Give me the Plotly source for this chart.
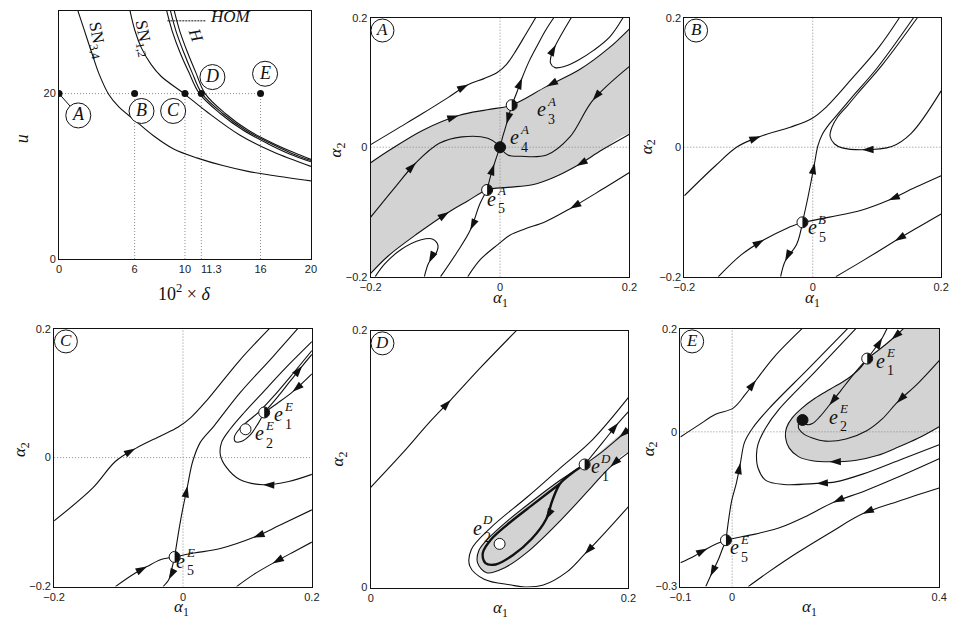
import math
import plotly.graph_objects as go

W, H = 955, 623
INK = "#111111"
GREY = "#d3d3d3"
DOT = "#8a8a8a"
SERIF = "Liberation Serif, DejaVu Serif, serif"
SANS = "Liberation Sans, Arial, sans-serif"

# ---------------- bifurcation diagram: (10^2 x delta, u) ----------------
SN34_D = [1.5, 2.0, 2.65, 3.2, 3.95, 4.75, 6.0, 7.5, 9.1, 11.0, 13.0, 15.0, 17.0, 20.0]
SN34_U = [30.0, 27.7, 24.7, 22.3, 19.9, 18.4, 16.8, 14.9, 13.3, 12.2, 11.3, 10.6, 10.1, 9.45]
SN12_D = [5.64, 6.03, 6.55, 7.32, 8.1, 9.92, 11.74, 14.34, 16.94, 20.0]
SN12_U = [30.0, 27.6, 25.5, 23.5, 22.1, 20.0, 17.8, 15.0, 13.0, 11.2]
H1_D = [8.55, 9.0, 9.6, 10.3, 11.15, 12.8, 14.6, 16.5, 18.3, 20.0]
H1_U = [30.0, 27.5, 25.0, 22.6, 20.0, 17.6, 15.6, 14.0, 12.7, 11.75]
H2_D = [8.85, 9.3, 9.9, 10.55, 11.35, 13.0, 14.8, 16.7, 18.45, 20.0]
H2_U = [30.0, 27.5, 25.0, 22.6, 20.0, 17.6, 15.6, 14.05, 12.8, 11.9]
H3_D = [9.15, 9.6, 10.2, 10.85, 11.6, 13.2, 15.0, 16.85, 18.6, 20.0]
H3_U = [30.0, 27.5, 25.0, 22.6, 20.0, 17.6, 15.6, 14.1, 12.9, 12.05]

CASE_NAMES = ["A", "B", "C", "D", "E"]
CASE_D = [0.0, 6.0, 10.0, 11.3, 16.0]
CASE_U = [20.0, 20.0, 20.0, 20.0, 20.0]
CASE_TAG_D = [1.53, 6.55, 9.06, 12.18, 16.36]
CASE_TAG_U = [17.36, 17.9, 17.9, 22.0, 22.4]

# ---------------- phase portraits: trajectories in (alpha1, alpha2) ----------------
# case A
A_T1 = [(-0.2, 0.004), (-0.16, 0.028), (-0.12, 0.052), (-0.08, 0.077), (-0.049, 0.097), (-0.025, 0.106),
        (-0.005, 0.115), (0.01, 0.128), (0.025, 0.15), (0.04, 0.175), (0.055, 0.2)]
A_E3_UP = [(0.018, 0.065), (0.026, 0.085), (0.034, 0.107), (0.045, 0.133), (0.058, 0.158), (0.07, 0.18), (0.083, 0.2)]
A_TURN_HI = [(0.19, 0.2), (0.17, 0.171), (0.145, 0.15), (0.12, 0.134), (0.1, 0.125), (0.085, 0.123), (0.078, 0.13),
             (0.08, 0.145), (0.086, 0.158), (0.097, 0.178), (0.11, 0.2)]
A_GREY_TOP = [(-0.2, -0.024), (-0.17, -0.004), (-0.12, 0.026), (-0.064, 0.049), (-0.02, 0.058), (0.018, 0.065),
              (0.072, 0.094), (0.123, 0.12), (0.168, 0.153), (0.2, 0.183)]
A_GREY_BOT = [(0.2, 0.02), (0.158, -0.004), (0.118, -0.029), (0.08, -0.048), (0.05, -0.058), (0.012, -0.062),
              (-0.02, -0.066), (-0.05, -0.083), (-0.079, -0.1), (-0.127, -0.133), (-0.173, -0.168), (-0.2, -0.195)]
A_IN_RIGHT = [(0.2, 0.125), (0.143, 0.072), (0.108, 0.016), (0.072, -0.012), (0.032, -0.014), (0.012, -0.012), (0.0, 0.0)]
A_IN_LEFT = [(-0.2, -0.108), (-0.165, -0.065), (-0.13, -0.024), (-0.094, 0.006), (-0.059, 0.016), (-0.019, 0.014),
             (-0.003, 0.004), (0.0, 0.0)]
A_E3_E4 = [(0.018, 0.065), (0.01, 0.036), (0.004, 0.016), (0.0, 0.0)]
A_E5_E4 = [(-0.02, -0.066), (-0.014, -0.042), (-0.009, -0.026), (-0.004, -0.011), (0.0, 0.0)]
A_E5_DOWN = [(-0.02, -0.066), (-0.031, -0.087), (-0.046, -0.128), (-0.067, -0.163), (-0.092, -0.2)]
A_TURN_LO = [(-0.193, -0.2), (-0.178, -0.18), (-0.153, -0.158), (-0.122, -0.143), (-0.104, -0.142), (-0.096, -0.152),
             (-0.1, -0.166), (-0.11, -0.178), (-0.117, -0.2)]
A_B1 = [(0.2, -0.039), (0.158, -0.065), (0.108, -0.095), (0.07, -0.115), (0.039, -0.126), (0.015, -0.136),
        (-0.003, -0.15), (-0.03, -0.173), (-0.05, -0.2)]

# case B
B_LEFT = [(-0.2, -0.075), (-0.152, -0.029), (-0.117, 0.001), (-0.081, 0.017), (-0.035, 0.031), (-0.002, 0.044),
          (0.021, 0.062), (0.062, 0.107), (0.102, 0.153), (0.135, 0.2)]
B_E5_UP = [(-0.016, -0.116), (-0.008, -0.08), (-0.002, -0.05), (0.003, -0.024), (0.008, 0.002), (0.015, 0.02),
           (0.026, 0.036), (0.038, 0.05), (0.06, 0.076), (0.1, 0.122), (0.157, 0.2)]
B_RIGHT = [(0.2, 0.087), (0.153, 0.021), (0.123, 0.001), (0.077, -0.004), (0.046, -0.001), (0.034, 0.005),
           (0.027, 0.017), (0.03, 0.031), (0.039, 0.047), (0.054, 0.064), (0.07, 0.083), (0.109, 0.128), (0.163, 0.2)]
B_E5_RIGHT = [(0.2, -0.044), (0.16, -0.062), (0.118, -0.082), (0.077, -0.097), (0.026, -0.108), (-0.016, -0.116)]
B_E5_LEFT = [(-0.147, -0.2), (-0.111, -0.166), (-0.076, -0.143), (-0.04, -0.125), (-0.016, -0.116)]
B_E5_DOWN = [(-0.016, -0.116), (-0.025, -0.15), (-0.043, -0.176), (-0.05, -0.2)]
B_LOW = [(0.2, -0.103), (0.16, -0.126), (0.128, -0.145), (0.077, -0.176), (0.036, -0.2)]

# case C
C_LEFT = [(-0.2, -0.098), (-0.14, -0.047), (-0.105, -0.006), (-0.074, 0.014), (-0.034, 0.034), (-0.008, 0.047),
          (0.012, 0.062), (0.038, 0.09), (0.088, 0.151), (0.134, 0.2)]
C_E5_UP = [(-0.013, -0.154), (-0.003, -0.093), (0.007, -0.044), (0.015, -0.006), (0.027, 0.024), (0.048, 0.049),
           (0.088, 0.1), (0.139, 0.156), (0.178, 0.2)]
C_TURN = [(0.2, -0.026), (0.164, -0.037), (0.124, -0.042), (0.088, -0.034), (0.068, -0.016), (0.058, 0.004),
          (0.06, 0.024), (0.073, 0.044), (0.095, 0.07), (0.12, 0.097), (0.16, 0.14), (0.2, 0.18)]
C_LOOP = [(0.2, 0.166), (0.172, 0.132), (0.144, 0.099), (0.118, 0.071), (0.1, 0.056), (0.088, 0.045), (0.08, 0.033),
          (0.081, 0.025), (0.09, 0.025), (0.104, 0.035), (0.116, 0.052), (0.126, 0.07)]
C_E1_IN = [(0.2, 0.13), (0.17, 0.102), (0.146, 0.084), (0.126, 0.07)]
C_E1_OUT = [(0.126, 0.07), (0.145, 0.092), (0.165, 0.117), (0.185, 0.142), (0.2, 0.16)]
C_E5_RIGHT = [(0.2, -0.081), (0.15, -0.105), (0.109, -0.124), (0.058, -0.141), (0.017, -0.148), (-0.013, -0.154)]
C_E5_LEFT = [(-0.105, -0.2), (-0.074, -0.179), (-0.056, -0.169), (-0.034, -0.158), (-0.013, -0.154)]
C_E5_DOWN = [(-0.013, -0.154), (-0.018, -0.175), (-0.022, -0.189), (-0.031, -0.2)]
C_LOW = [(0.2, -0.131), (0.17, -0.147), (0.139, -0.164), (0.11, -0.181), (0.083, -0.2)]

# case D
D_LEFT = [(0.0, 0.078), (0.025, 0.105), (0.045, 0.128), (0.062, 0.146), (0.085, 0.171), (0.113, 0.2)]
D_OUTER = [(0.2, 0.063), (0.182, 0.043), (0.166, 0.026), (0.152, 0.012), (0.134, 0.002), (0.12, 0.0005),
           (0.109, 0.002), (0.088, 0.0065), (0.077, 0.0165), (0.078, 0.0295), (0.093, 0.0465), (0.1215, 0.0705),
           (0.147, 0.093), (0.172, 0.115), (0.2, 0.148)]
D_GREY = [(0.2, 0.125), (0.185, 0.112), (0.166, 0.0958), (0.147, 0.0835), (0.125, 0.067), (0.105, 0.051),
          (0.092, 0.039), (0.084, 0.029), (0.083, 0.019), (0.09, 0.0115), (0.104, 0.0155), (0.122, 0.028),
          (0.147, 0.052), (0.172, 0.079), (0.186, 0.094), (0.2, 0.105)]
D_E1_IN = [(0.2, 0.123), (0.193, 0.117), (0.18, 0.106), (0.166, 0.0958)]
D_EDGE = [(0.2, 0.105), (0.186, 0.094), (0.172, 0.079), (0.147, 0.052), (0.122, 0.028), (0.104, 0.0155),
          (0.09, 0.0115), (0.083, 0.019), (0.084, 0.029), (0.092, 0.039), (0.105, 0.051), (0.125, 0.067),
          (0.147, 0.0835), (0.166, 0.0958)]
D_CYCLE = [(0.166, 0.0958), (0.156, 0.089), (0.147, 0.081), (0.141, 0.068), (0.136, 0.053), (0.125, 0.038),
           (0.11, 0.025), (0.097, 0.018), (0.089, 0.019), (0.087, 0.027), (0.093, 0.037), (0.106, 0.049),
           (0.125, 0.064), (0.147, 0.081)]
D_E1_OUT = [(0.166, 0.0958), (0.18, 0.113), (0.192, 0.128), (0.2, 0.137)]

# case E
E_LEFT = [(-0.1, -0.01), (-0.065, 0.013), (-0.032, 0.034), (0.002, 0.046), (0.025, 0.072), (0.046, 0.1),
          (0.081, 0.145), (0.135, 0.2)]
E_E5_UP = [(-0.012, -0.21), (-0.001, -0.134), (0.008, -0.1), (0.016, -0.06), (0.024, -0.02), (0.04, 0.008),
           (0.072, 0.046), (0.147, 0.122), (0.223, 0.2)]
E_TURN = [(0.4, -0.025), (0.33, -0.052), (0.252, -0.082), (0.2, -0.097), (0.163, -0.1), (0.1, -0.102),
          (0.065, -0.094), (0.05, -0.07), (0.047, -0.045), (0.05, -0.024), (0.065, 0.008), (0.09, 0.043),
          (0.16, 0.116), (0.239, 0.2)]
E_GREY_EDGE = [(0.4, 0.01), (0.36, -0.012), (0.32, -0.03), (0.28, -0.046), (0.24, -0.055), (0.188, -0.058),
               (0.155, -0.056), (0.128, -0.048), (0.11, -0.031), (0.103, -0.01), (0.105, 0.008), (0.116, 0.027),
               (0.135, 0.046), (0.16, 0.065), (0.19, 0.083), (0.223, 0.103), (0.245, 0.121), (0.261, 0.142)]
E_E1_TOP = [(0.331, 0.2), (0.308, 0.179), (0.285, 0.16), (0.261, 0.142)]
E_E1_UP = [(0.261, 0.142), (0.277, 0.163), (0.29, 0.182), (0.299, 0.2)]
E_E1_E2 = [(0.261, 0.142), (0.235, 0.112), (0.21, 0.08), (0.188, 0.052), (0.17, 0.03), (0.155, 0.016),
           (0.145, 0.014), (0.138, 0.018), (0.136, 0.023)]
E_INNER = [(0.4, 0.138), (0.36, 0.095), (0.318, 0.056), (0.29, 0.025), (0.26, 0.002), (0.22, -0.014),
           (0.18, -0.018), (0.155, -0.012), (0.138, -0.004), (0.128, 0.008), (0.13, 0.02), (0.136, 0.023)]
E_E5_RIGHT = [(0.4, -0.052), (0.315, -0.09), (0.255, -0.115), (0.195, -0.137), (0.14, -0.165), (0.094, -0.185),
              (0.05, -0.197), (0.02, -0.203), (-0.012, -0.21)]
E_LOW = [(0.4, -0.109), (0.32, -0.135), (0.252, -0.159), (0.19, -0.195), (0.125, -0.235), (0.07, -0.272), (0.031, -0.3)]
E_E5_LEFT = [(-0.1, -0.254), (-0.072, -0.24), (-0.048, -0.226), (-0.028, -0.216), (-0.012, -0.21)]
E_E5_DOWN = [(-0.012, -0.21), (-0.02, -0.23), (-0.026, -0.246), (-0.042, -0.28), (-0.051, -0.3)]

# equilibria: (alpha1, alpha2, type, case letter, index)
EQ_A = [(0.018, 0.065, "saddle", "A", "3"), (0.0, 0.0, "sink", "A", "4"), (-0.02, -0.066, "saddle", "A", "5")]
EQ_B = [(-0.016, -0.116, "saddle", "B", "5")]
EQ_C = [(0.126, 0.07, "saddle", "E", "1"), (0.097, 0.044, "source", "E", "2"), (-0.013, -0.154, "saddle", "E", "5")]
EQ_D = [(0.166, 0.0958, "saddle", "D", "1"), (0.1, 0.034, "source", "D", "2")]
EQ_E = [(0.261, 0.142, "saddle", "E", "1"), (0.136, 0.023, "sink", "E", "2"), (-0.012, -0.21, "saddle", "E", "5")]

# ---------------- layout of the six frames (pixel boxes: left, right, top, bottom) ----------------
BOX = {1: (49, 306, 5, 258), 2: (367, 631, 12, 276), 3: (687, 949, 12, 276),
       4: (44, 307, 329, 592), 5: (367, 630, 331, 593), 6: (683, 947, 329, 592)}
XR = {1: [0, 20], 2: [-0.2, 0.2], 3: [-0.2, 0.2], 4: [-0.2, 0.2], 5: [0, 0.2], 6: [-0.1, 0.4]}
YR = {1: [0, 30], 2: [-0.2, 0.2], 3: [-0.2, 0.2], 4: [-0.2, 0.2], 5: [0, 0.2], 6: [-0.3, 0.2]}
XT = {1: ([0, 6, 10, 16, 20], ["0", "6", "10", "16", "20"]),
      2: ([-0.2, 0, 0.2], ["\u22120.2", "0", "0.2"]), 3: ([-0.2, 0, 0.2], ["\u22120.2", "0", "0.2"]),
      4: ([-0.2, 0, 0.2], ["\u22120.2", "0", "0.2"]), 5: ([0, 0.2], ["0", "0.2"]),
      6: ([-0.1, 0, 0.4], ["\u22120.1", "0", "0.4"])}
YT = {1: ([0, 20], ["0", "20"]),
      2: ([-0.2, 0, 0.2], ["\u22120.2", "0", "0.2"]), 3: ([-0.2, 0, 0.2], ["\u22120.2", "0", "0.2"]),
      4: ([-0.2, 0, 0.2], ["\u22120.2", "0", "0.2"]), 5: ([0, 0.2], ["0", "0.2"]),
      6: ([-0.3, 0, 0.2], ["\u22120.3", "0", "0.2"])}


def ax(k):
    s = "" if k == 1 else str(k)
    return "x" + s, "y" + s


fig = go.Figure()
shapes = []
annots = []


def line(k, xs, ys, width=1.1, color=INK, dash=None, shape="spline"):
    xa, ya = ax(k)
    fig.add_trace(go.Scatter(x=xs, y=ys, mode="lines", xaxis=xa, yaxis=ya, hoverinfo="skip",
                             showlegend=False,
                             line=dict(color=color, width=width, dash=dash, shape=shape, smoothing=1.0)))


def curve(k, pts, width=1.1):
    line(k, [p[0] for p in pts], [p[1] for p in pts], width=width)


def grey(k, pts):
    xa, ya = ax(k)
    fig.add_trace(go.Scatter(x=[p[0] for p in pts], y=[p[1] for p in pts], mode="lines", fill="toself",
                             fillcolor=GREY, xaxis=xa, yaxis=ya, hoverinfo="skip", showlegend=False,
                             line=dict(width=0, shape="spline", color=GREY)))


def arrows(k, specs):
    xs, ys, sym, size = [], [], [], []
    for pts, i, sgn in specs:
        n = len(pts)
        a = pts[max(i - 1, 0)]
        b = pts[min(i + 1, n - 1)]
        hx, hy = pts[i]
        tx = hx - sgn * 0.03 * (b[0] - a[0])
        ty = hy - sgn * 0.03 * (b[1] - a[1])
        xs += [tx, hx]
        ys += [ty, hy]
        sym += ["circle", "arrow"]
        size += [0, 12]
    xa, ya = ax(k)
    fig.add_trace(go.Scatter(x=xs, y=ys, mode="markers", xaxis=xa, yaxis=ya, hoverinfo="skip", showlegend=False,
                             marker=dict(symbol=sym, size=size, color=INK, opacity=1, angleref="previous",
                                         line=dict(width=0))))


def circle_tag(k, x, y, text, r, size):
    xa, ya = ax(k)
    shapes.append(dict(type="circle", xref=xa, yref=ya, xsizemode="pixel", ysizemode="pixel",
                       xanchor=x, yanchor=y, x0=-r, x1=r, y0=-r, y1=r,
                       fillcolor="white", line=dict(color=INK, width=1), layer="above"))
    annots.append(dict(x=x, y=y, xref=xa, yref=ya, text="<i>%s</i>" % text, showarrow=False,
                       xanchor="center", yanchor="middle",
                       font=dict(family=SERIF, size=size, color=INK), yshift=1))


def half_disc(r, side):
    pts = []
    for j in range(17):
        t = -math.pi / 2 + math.pi * j / 16
        pts.append("%.2f,%.2f" % (side * r * math.cos(t), r * math.sin(t)))
    return "M" + " L".join(pts) + " Z"


LABEL_SHIFT = {(2, "3"): (30, 10), (2, "4"): (14, -4), (2, "5"): (4, 15), (3, "5"): (10, 11),
               (4, "1"): (14, 8), (4, "2"): (14, 10), (4, "5"): (6, 10),
               (5, "1"): (11, 8), (5, "2"): (-22, -10),
               (6, "1"): (13, 8), (6, "2"): (31, 3), (6, "5"): (9, 13)}


def equilibria(k, eqs):
    xa, ya = ax(k)
    for x, y, kind, sup, sub in eqs:
        fill = INK if kind == "sink" else "white"
        fig.add_trace(go.Scatter(x=[x], y=[y], mode="markers", xaxis=xa, yaxis=ya, hoverinfo="skip",
                                 showlegend=False,
                                 marker=dict(symbol="circle", size=11, color=fill, opacity=1,
                                             line=dict(color=INK, width=1))))
        if kind == "saddle":
            shapes.append(dict(type="path", xref=xa, yref=ya, xsizemode="pixel", ysizemode="pixel",
                               xanchor=x, yanchor=y, path=half_disc(5.3, 1), fillcolor=INK,
                               line=dict(width=0), layer="above"))
        dx, dy = LABEL_SHIFT[(k, sub)]
        annots.append(dict(x=x, y=y, xref=xa, yref=ya, text="<i>e</i>", showarrow=False,
                           font=dict(family=SERIF, size=20, color=INK), xshift=dx, yshift=-dy + 6))
        annots.append(dict(x=x, y=y, xref=xa, yref=ya, text="<i>%s</i>" % sup, showarrow=False,
                           font=dict(family=SERIF, size=13, color=INK), xshift=dx + 10, yshift=-dy + 14))
        annots.append(dict(x=x, y=y, xref=xa, yref=ya, text=sub, showarrow=False,
                           font=dict(family=SERIF, size=14, color=INK), xshift=dx + 10, yshift=-dy - 4))


# ---------------- frame 1: bifurcation diagram ----------------
line(1, [0, 16], [20, 20], width=1, color=DOT, dash="1px,2px", shape="linear")
for d in CASE_D[1:]:
    line(1, [d, d], [0, 20], width=1, color=DOT, dash="1px,2px", shape="linear")
line(1, [0.0, 1.53], [20.0, 17.36], width=1, shape="linear")
for xs, ys in [(SN34_D, SN34_U), (SN12_D, SN12_U), (H1_D, H1_U), (H2_D, H2_U), (H3_D, H3_U)]:
    line(1, xs, ys)
line(1, [8.6, 11.7], [28.8, 28.8], width=1, color=INK, dash="2px,1px", shape="linear")
fig.add_trace(go.Scatter(x=CASE_D, y=CASE_U, mode="markers", xaxis="x", yaxis="y", hoverinfo="skip",
                         showlegend=False, marker=dict(size=7, color=INK)))
for name, tx, ty in zip(CASE_NAMES, CASE_TAG_D, CASE_TAG_U):
    circle_tag(1, tx, ty, name, 12.5, 18)
annots += [
    dict(x=3.0, y=26.4, xref="x", yref="y", text="SN<sub>3,4</sub>", textangle=80, showarrow=False,
         font=dict(family=SERIF, size=17, color=INK)),
    dict(x=6.65, y=26.6, xref="x", yref="y", text="SN<sub>1,2</sub>", textangle=80, showarrow=False,
         font=dict(family=SERIF, size=17, color=INK)),
    dict(x=10.85, y=27.0, xref="x", yref="y", text="<i>H</i>", textangle=70, showarrow=False,
         font=dict(family=SERIF, size=17, color=INK)),
    dict(x=11.8, y=29.3, xref="x", yref="y", text="<i>HOM</i>", showarrow=False, xanchor="left",
         font=dict(family=SERIF, size=17, color=INK)),
    # the 11.3 tick label sits a little to the right of its tick, clear of "10"
    dict(x=11.3, y=0, xref="x", yref="y", text="11.3", showarrow=False, xshift=10, yshift=-10,
         font=dict(family=SANS, size=11, color="#222")),
]

# ---------------- frames 2-6: phase portraits ----------------
PANELS = {
    2: dict(grey=[A_GREY_TOP + [(0.24, 0.23), (0.24, 0.0)] + A_GREY_BOT + [(-0.24, -0.23), (-0.24, -0.03)]],
            curves=[A_T1, A_E3_UP, A_TURN_HI, A_GREY_TOP, A_GREY_BOT, A_IN_RIGHT, A_IN_LEFT, A_E3_E4, A_E5_E4,
                    A_E5_DOWN, A_TURN_LO, A_B1],
            arrows=[(A_T1, 4, 1), (A_E3_UP, 2, 1), (A_TURN_HI, 8, 1), (A_GREY_TOP, 3, 1), (A_GREY_TOP, 6, -1),
                    (A_GREY_BOT, 2, 1), (A_GREY_BOT, 8, -1), (A_IN_RIGHT, 1, 1), (A_IN_LEFT, 2, 1),
                    (A_E3_E4, 1, 1), (A_E5_E4, 2, 1), (A_E5_DOWN, 2, 1), (A_TURN_LO, 7, 1), (A_B1, 2, 1)],
            eq=EQ_A, tag="A", zero=True),
    3: dict(grey=[],
            curves=[B_LEFT, B_E5_UP, B_RIGHT, B_E5_RIGHT, B_E5_LEFT, B_E5_DOWN, B_LOW],
            arrows=[(B_LEFT, 3, 1), (B_E5_UP, 3, 1), (B_RIGHT, 3, 1), (B_E5_RIGHT, 2, 1), (B_E5_LEFT, 2, 1),
                    (B_E5_DOWN, 2, 1), (B_LOW, 2, 1)],
            eq=EQ_B, tag="B", zero=True),
    4: dict(grey=[],
            curves=[C_LEFT, C_E5_UP, C_TURN, C_LOOP, C_E1_IN, C_E1_OUT, C_E5_RIGHT, C_E5_LEFT, C_E5_DOWN, C_LOW],
            arrows=[(C_LEFT, 3, 1), (C_E5_UP, 2, 1), (C_TURN, 2, 1), (C_E1_IN, 1, 1), (C_E1_OUT, 3, 1),
                    (C_E5_RIGHT, 2, 1), (C_E5_LEFT, 2, 1), (C_E5_DOWN, 2, 1), (C_LOW, 2, 1)],
            eq=EQ_C, tag="C", zero=True),
    5: dict(grey=[D_GREY + [(0.23, 0.09), (0.23, 0.14)]],
            curves=[D_LEFT, D_OUTER, D_E1_IN, D_EDGE, D_E1_OUT],
            arrows=[(D_LEFT, 3, 1), (D_OUTER, 2, 1), (D_E1_IN, 1, 1), (D_EDGE, 1, 1), (D_CYCLE, 4, 1),
                    (D_E1_OUT, 2, 1)],
            eq=EQ_D, tag="D", zero=False),
    6: dict(grey=[E_GREY_EDGE + [(0.285, 0.16), (0.308, 0.179), (0.331, 0.2), (0.36, 0.24), (0.46, 0.24),
                                 (0.46, -0.01)]],
            curves=[E_LEFT, E_E5_UP, E_TURN, E_GREY_EDGE, E_E1_TOP, E_E1_UP, E_E1_E2, E_INNER, E_E5_RIGHT, E_LOW,
                    E_E5_LEFT, E_E5_DOWN],
            arrows=[(E_LEFT, 5, 1), (E_E5_UP, 3, 1), (E_TURN, 4, 1), (E_GREY_EDGE, 5, 1), (E_E1_TOP, 1, 1),
                    (E_E1_UP, 2, 1), (E_E1_E2, 3, 1), (E_INNER, 2, 1), (E_E5_RIGHT, 3, 1), (E_LOW, 2, 1),
                    (E_E5_LEFT, 2, 1), (E_E5_DOWN, 3, 1)],
            eq=EQ_E, tag="E", zero=True),
}

for k, p in PANELS.items():
    for g in p["grey"]:
        grey(k, g)
    if p["zero"]:
        line(k, XR[k], [0, 0], width=1, color=DOT, dash="1px,2px", shape="linear")
        line(k, [0, 0], YR[k], width=1, color=DOT, dash="1px,2px", shape="linear")
    for c in p["curves"]:
        curve(k, c)
    if k == 5:
        curve(5, D_CYCLE, width=2.4)
    arrows(k, p["arrows"])
    equilibria(k, p["eq"])
    l, r, t, b = BOX[k]
    tx = XR[k][0] + 12.0 * (XR[k][1] - XR[k][0]) / (r - l)
    ty = YR[k][1] - 13.0 * (YR[k][1] - YR[k][0]) / (b - t)
    circle_tag(k, tx, ty, p["tag"], 11.5, 17)


# ---------------- axis titles ----------------
def title(px, py, text, angle=0, size=18):
    annots.append(dict(x=px / W, y=1 - py / H, xref="paper", yref="paper", text=text, showarrow=False,
                       textangle=angle, xanchor="center", yanchor="middle",
                       font=dict(family=SERIF, size=size, color=INK)))


A1 = "<i>\u03b1</i><sub>1</sub>"
A2 = "<i>\u03b1</i><sub>2</sub>"
title(177, 292, "10<sup>2</sup> \u00d7 <i>\u03b4</i>")
title(12, 135, "<i>u</i>", angle=-90)
for px, py in [(499, 299), (818, 299), (174, 614), (499, 615), (815, 614)]:
    title(px, py, A1, size=17)
for px, py in [(333, 147), (650, 144), (11, 452), (335, 462), (652, 452)]:
    title(px, py, A2, angle=-90, size=17)

layout = dict(width=W, height=H, margin=dict(l=0, r=0, t=0, b=0), paper_bgcolor="white", plot_bgcolor="white",
              showlegend=False, shapes=shapes, annotations=annots)
for k in range(1, 7):
    xa, ya = ax(k)
    l, r, t, b = BOX[k]
    common = dict(showline=True, mirror=True, linecolor=INK, linewidth=1, showgrid=False, zeroline=False,
                  ticks="", tickangle=0,
                  tickfont=dict(family=SANS, size=11, color="#222"), fixedrange=True)
    layout["xaxis" + xa[1:]] = dict(domain=[l / W, r / W], range=XR[k], anchor=ya, tickmode="array",
                                    tickvals=XT[k][0], ticktext=XT[k][1], **common)
    layout["yaxis" + ya[1:]] = dict(domain=[1 - b / H, 1 - t / H], range=YR[k], anchor=xa, tickmode="array",
                                    tickvals=YT[k][0], ticktext=YT[k][1], **common)
fig.update_layout(**layout)
fig.write_html("out.html")
